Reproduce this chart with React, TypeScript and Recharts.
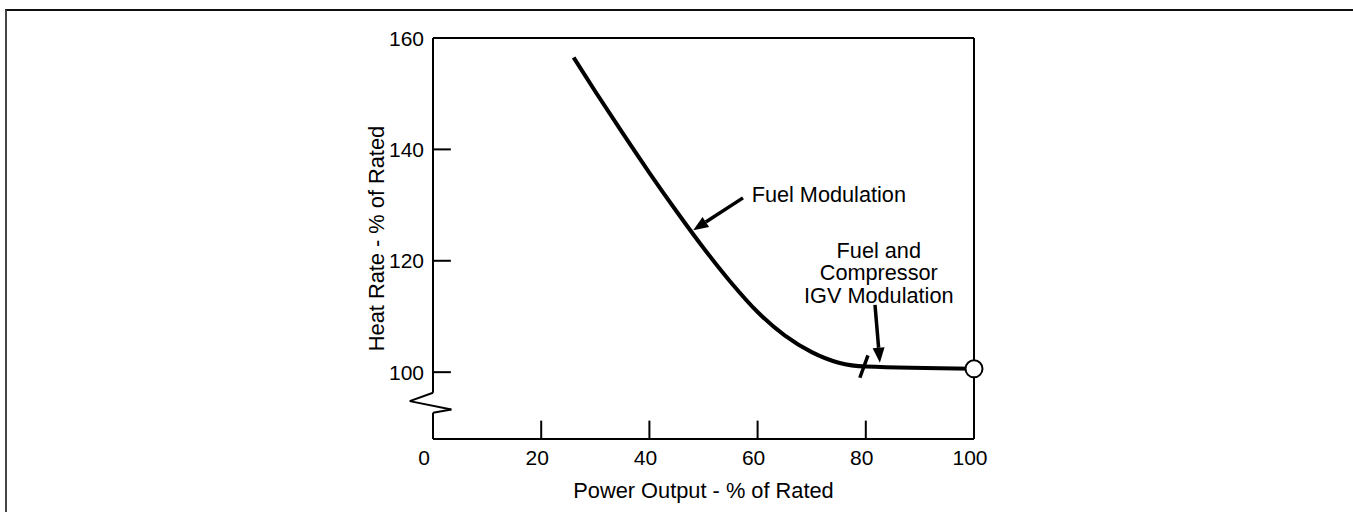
import { ComposedChart, Line, XAxis, YAxis, ReferenceLine, ReferenceDot, Label } from 'recharts'

// Heat rate vs power output
const power = [26, 30, 35, 40, 45, 50, 55, 60, 65, 70, 75, 80, 100]
const heatRate = [156.5, 150.4, 143.0, 135.8, 128.9, 122.3, 116.2, 110.8, 106.6, 103.6, 101.7, 101.0, 100.6]
const xTicks = [0, 20, 40, 60, 80, 100]
const yTicks = [100, 120, 140, 160]
const xInnerTicks = [20, 40, 60, 80]
const yInnerTicks = [100, 120, 140]

const data = power.map((p, i) => ({ power: p, heatRate: heatRate[i] }))

const FONT = '"Liberation Sans", Arial, Helvetica, sans-serif'
const INK = '#000'

// left axis drawn by hand so it can carry the break symbol
const axisPath = [
  { x: 0, y: 160 },
  { x: 0, y: 96.3 },
  { x: -4.3, y: 94.8 },
  { x: 3.4, y: 93.3 },
  { x: 0, y: 92.7 },
  { x: 0, y: 88 },
]

function XTick({ x, y, payload }: any) {
  const shift = payload.value === 0 ? -9 : -4
  return (
    <text x={x + shift} y={y} dy="0.71em" textAnchor="middle" fill={INK} fontSize={21} fontFamily={FONT}>
      {payload.value}
    </text>
  )
}

function YTick({ x, y, payload }: any) {
  return (
    <text x={x} y={y} dy="0.36em" textAnchor="end" fill={INK} fontSize={21} fontFamily={FONT}>
      {payload.value}
    </text>
  )
}

function Arrow({ x1, y1, x2, y2 }: any) {
  const ang = Math.atan2(y2 - y1, x2 - x1)
  const len = 15
  const half = 6
  const bx = x2 - len * Math.cos(ang)
  const by = y2 - len * Math.sin(ang)
  const px = -Math.sin(ang) * half
  const py = Math.cos(ang) * half
  return (
    <g>
      <line x1={x1} y1={y1} x2={bx} y2={by} stroke={INK} strokeWidth={3.5} />
      <polygon points={`${x2},${y2} ${bx + px},${by + py} ${bx - px},${by - py}`} fill={INK} />
    </g>
  )
}

function Note({ cx, cy, lines, anchor }: any) {
  return (
    <text x={cx} y={cy} textAnchor={anchor} fill={INK} fontSize={21.7} fontFamily={FONT}>
      {lines.map((t: string, i: number) => (
        <tspan key={t} x={cx} dy={i === 0 ? '0.36em' : 22.3}>
          {t}
        </tspan>
      ))}
    </text>
  )
}

function EndDot(p: any) {
  if (p.index !== power.length - 1) return <g key={`d${p.index}`} />
  return <circle key="end" cx={p.cx} cy={p.cy} r={8.5} fill="#fff" stroke={INK} strokeWidth={2} />
}

export default function App() {
  return (
    <div style={{ position: 'absolute', left: 0, top: 0, width: 1353, height: 512, background: '#fff' }}>
      <div
        style={{
          position: 'absolute',
          left: 5,
          top: 9,
          width: 1348,
          height: 503,
          borderTop: '2px solid #111',
          borderLeft: '2px solid #444',
          boxSizing: 'border-box',
        }}
      />
      <div style={{ position: 'absolute', left: 0, top: 0 }}>
        <ComposedChart
          width={1353}
          height={512}
          data={data}
          margin={{ top: 37, right: 378, bottom: 0, left: 0 }}
          style={{ fontFamily: FONT }}
        >
          <XAxis
            dataKey="power"
            type="number"
            domain={[0, 100]}
            ticks={xTicks}
            height={73}
            tick={<XTick />}
            tickSize={0}
            tickMargin={11}
            tickLine={false}
            axisLine={{ stroke: INK, strokeWidth: 2 }}
          >
            <Label
              value="Power Output - % of Rated"
              position="insideBottom"
              offset={14}
              fill={INK}
              fontSize={21.8}
              fontFamily={FONT}
            />
          </XAxis>
          {/* top frame line of the plot box */}
          <XAxis
            xAxisId="top"
            orientation="top"
            dataKey="power"
            type="number"
            domain={[0, 100]}
            height={1}
            tick={false}
            tickLine={false}
            axisLine={{ stroke: INK, strokeWidth: 2 }}
          />
          <YAxis
            type="number"
            domain={[88, 160]}
            ticks={yTicks}
            width={433}
            tick={<YTick />}
            tickSize={0}
            tickMargin={9}
            tickLine={false}
            axisLine={false}
          >
            <Label
              content={({ viewBox }: any) => {
                const cx = viewBox.x + viewBox.width - 57
                const cy = viewBox.y + viewBox.height / 2
                return (
                  <text
                    x={cx}
                    y={cy}
                    transform={`rotate(-90, ${cx}, ${cy})`}
                    textAnchor="middle"
                    dy="0.36em"
                    fill={INK}
                    fontSize={21.8}
                    fontFamily={FONT}
                  >
                    Heat Rate - % of Rated
                  </text>
                )
              }}
            />
          </YAxis>
          {/* right frame line of the plot box */}
          <YAxis
            yAxisId="right"
            orientation="right"
            type="number"
            domain={[88, 160]}
            width={1}
            tick={false}
            tickLine={false}
            axisLine={{ stroke: INK, strokeWidth: 2 }}
          />

          {axisPath.slice(1).map((pt, i) => (
            <ReferenceLine
              key={`ax${i}`}
              segment={[axisPath[i], pt]}
              stroke={INK}
              strokeWidth={2}
              ifOverflow="visible"
            />
          ))}
          {xInnerTicks.map((t) => (
            <ReferenceLine key={`xt${t}`} segment={[{ x: t, y: 88 }, { x: t, y: 91.3 }]} stroke={INK} strokeWidth={2} ifOverflow="visible" />
          ))}
          {yInnerTicks.map((t) => (
            <ReferenceLine key={`yt${t}`} segment={[{ x: 0, y: t }, { x: 3.3, y: t }]} stroke={INK} strokeWidth={2} ifOverflow="visible" />
          ))}

          {/* transition mark where IGV modulation begins */}
          <ReferenceLine segment={[{ x: 78.9, y: 99.0 }, { x: 80.4, y: 103.0 }]} stroke={INK} strokeWidth={3.5} ifOverflow="visible" />

          <ReferenceLine segment={[{ x: 57.3, y: 131.3 }, { x: 48.1, y: 125.5 }]} shape={<Arrow />} ifOverflow="visible" />
          <ReferenceLine segment={[{ x: 81.7, y: 112.1 }, { x: 82.6, y: 101.7 }]} shape={<Arrow />} ifOverflow="visible" />

          <ReferenceDot x={58.9} y={131.9} r={0} shape={<Note lines={['Fuel Modulation']} anchor="start" />} />
          <ReferenceDot
            x={82.4}
            y={121.9}
            r={0}
            shape={<Note lines={['Fuel and', 'Compressor', 'IGV Modulation']} anchor="middle" />}
          />

          <Line
            dataKey="heatRate"
            type="monotone"
            stroke={INK}
            strokeWidth={4}
            dot={EndDot}
            activeDot={false}
            isAnimationActive={false}
          />
        </ComposedChart>
      </div>
    </div>
  )
}
